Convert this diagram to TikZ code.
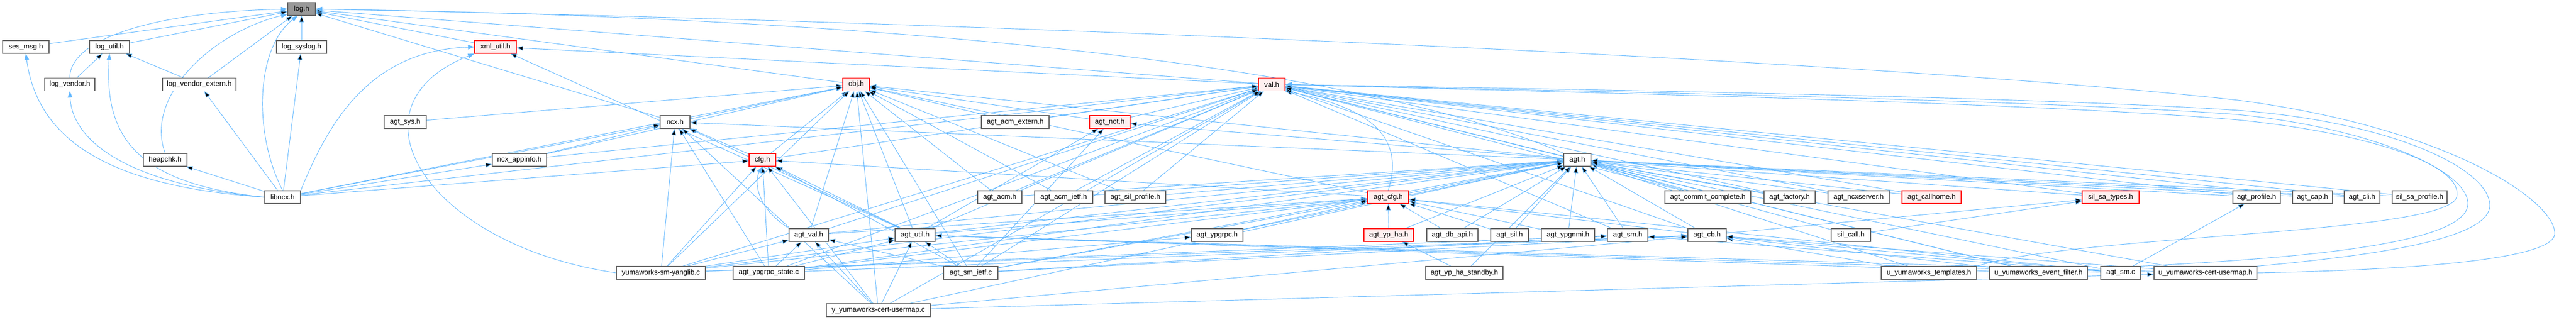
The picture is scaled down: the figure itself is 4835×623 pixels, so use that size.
\documentclass[tikz,border=0pt]{standalone}
\usepackage{fontspec}
\setmainfont{Liberation Sans}
\usetikzlibrary{arrows.meta, backgrounds}
\definecolor{edgeblue}{HTML}{63B8FF}
\definecolor{boxgrey}{HTML}{666666}
\definecolor{rootgrey}{HTML}{999999}
\definecolor{truncred}{HTML}{FF0000}
\definecolor{truncfill}{HTML}{FFF0F0}
\tikzset{
  file/.style={draw=boxgrey, fill=white, line width=0.9pt, minimum height=18pt,
    inner sep=0pt, font=\fontsize{10}{12}\selectfont},
  trunc/.style={file, draw=truncred, fill=truncfill},
  root/.style={file, fill=rootgrey},
  wd/.style={minimum width=#1*0.75pt},
  incl/.style={draw=edgeblue, line width=0.7pt, -{Triangle[length=9pt,width=6.5pt]}},
}

\begin{document}
\begin{tikzpicture}[x=0.75pt, y=-0.75pt]
    \useasboundingbox (0,0) rectangle (4835,623);
    % Root
    \node[root, wd=52] (log) at (566,17) {log.h};
    % Level 1
    \node[file, wd=87] (sesmsg) at (48.5,88) {ses\_msg.h};
    \node[file, wd=75] (logutil) at (205.5,88) {log\_util.h};
    \node[file, wd=94] (logsyslog) at (566,88) {log\_syslog.h};
    \node[trunc, wd=78] (xmlutil) at (930,88) {xml\_util.h};
    % Level 2
    \node[file, wd=94] (logvendor) at (131,158.5) {log\_vendor.h};
    \node[file, wd=138] (logvendorext) at (374,158.5) {log\_vendor\_extern.h};
    \node[trunc, wd=50] (obj) at (1607,158.5) {obj.h};
    \node[trunc, wd=50] (val) at (2387,158.5) {val.h};
    % Level 3
    \node[file, wd=79] (agtsys) at (760.5,229) {agt\_sys.h};
    \node[file, wd=56] (ncx) at (1267,229) {ncx.h};
    \node[file, wd=127] (acmext) at (1905.5,229) {agt\_acm\_extern.h};
    \node[trunc, wd=76] (agtnot) at (2083,229) {agt\_not.h};
    % Level 4
    \node[file, wd=82] (heapchk) at (310,300) {heapchk.h};
    \node[file, wd=102] (appinfo) at (975,300) {ncx\_appinfo.h};
    \node[trunc, wd=50] (cfg) at (1431,300) {cfg.h};
    \node[file, wd=51] (agt) at (2960.5,300) {agt.h};
    % Level 5
    \node[file, wd=67] (libncx) at (530.5,370) {libncx.h};
    \node[file, wd=83] (acm) at (1876.5,370) {agt\_acm.h};
    \node[file, wd=109] (acmietf) at (1996.5,370) {agt\_acm\_ietf.h};
    \node[file, wd=114] (silprof) at (2131,370) {agt\_sil\_profile.h};
    \node[trunc, wd=77] (agtcfg) at (2605.5,370) {agt\_cfg.h};
    \node[file, wd=161] (commit) at (3205.5,370) {agt\_commit\_complete.h};
    \node[file, wd=96] (factory) at (3359,370) {agt\_factory.h};
    \node[file, wd=115] (ncxserver) at (3488.5,370) {agt\_ncxserver.h};
    \node[trunc, wd=111] (callhome) at (3625.5,370) {agt\_callhome.h};
    \node[trunc, wd=107] (silsatypes) at (3961.5,370) {sil\_sa\_types.h};
    \node[file, wd=89] (agtprofile) at (4235.5,370) {agt\_profile.h};
    \node[file, wd=75] (agtcap) at (4340.5,370) {agt\_cap.h};
    \node[file, wd=67] (agtcli) at (4433.5,370) {agt\_cli.h};
    \node[file, wd=103] (silsaprofile) at (4541.5,370) {sil\_sa\_profile.h};
    % Level 6
    \node[file, wd=74] (agtval) at (1518,441) {agt\_val.h};
    \node[file, wd=75] (agtutil) at (1717.5,441) {agt\_util.h};
    \node[file, wd=97] (ypgrpc) at (2284.5,441) {agt\_ypgrpc.h};
    \node[trunc, wd=93] (ypha) at (2606.5,441) {agt\_yp\_ha.h};
    \node[file, wd=96] (dbapi) at (2726,441) {agt\_db\_api.h};
    \node[file, wd=71] (agtsil) at (2833.5,441) {agt\_sil.h};
    \node[file, wd=100] (ypgnmi) at (2943,441) {agt\_ypgnmi.h};
    \node[file, wd=76] (agtsmh) at (3055,441) {agt\_sm.h};
    \node[file, wd=72] (agtcb) at (3204,441) {agt\_cb.h};
    \node[file, wd=74] (silcall) at (3474,441) {sil\_call.h};
    % Level 7
    \node[file, wd=167] (yanglib) at (1240.5,512) {yumaworks-sm-yanglib.c};
    \node[file, wd=134] (grpcstate) at (1443,512) {agt\_ypgrpc\_state.c};
    \node[file, wd=102] (smietf) at (1822,512) {agt\_sm\_ietf.c};
    \node[file, wd=145] (hastandby) at (2748.5,512) {agt\_yp\_ha\_standby.h};
    \node[file, wd=179] (templates) at (3620.5,512) {u\_yumaworks\_templates.h};
    \node[file, wd=184] (eventfilter) at (3826,512) {u\_yumaworks\_event\_filter.h};
    \node[file, wd=75] (agtsmc) at (3980.5,512) {agt\_sm.c};
    \node[file, wd=193] (ucerth) at (4139.5,512) {u\_yumaworks-cert-usermap.h};
    % Level 8
    \node[file, wd=195] (ucertc) at (1648.5,582) {y\_yumaworks-cert-usermap.c};

    \begin{pgfonlayer}{background}
    % Includes of log.h and the log helpers
    \path[incl] (sesmsg) edge (log);
    \path[incl] (logutil) edge (log);
    \path[incl] (logsyslog) edge (log);
    \path[incl] (xmlutil) edge (log);
    \path[incl] (logvendorext) edge (log) edge (logutil);
    \path[incl] (logvendor) edge (logutil);
    \draw[incl] (logvendor.north) .. controls (131,70) and (300,22) .. (log.west);
    \draw[incl] (heapchk.north) .. controls (270,180) and (400,60) .. (log.200);
    \path[incl] (obj) edge (log);
    \path[incl] (val) edge (log) edge (xmlutil);
    \path[incl] (ncx) edge (log) edge (obj);
    \path[incl] (agtsys) edge (obj);
    \path[incl] (acmext) edge (obj) edge (val);
    \path[incl] (agtnot) edge (obj) edge (val);
    \path[incl] (appinfo) edge (ncx) edge (obj) edge (val);
    \path[incl] (cfg) edge (ncx) edge (obj) edge (val);
    \path[incl] (agt) edge (ncx) edge (obj) edge (val) edge (agtnot);
    \draw[incl] (agt.north west) .. controls (2500,100) and (1500,30) .. (log.east);
    % libncx.h
    \path[incl] (libncx) edge (logvendorext) edge (heapchk) edge (logsyslog)
        edge (ncx) edge (appinfo) edge (cfg) edge (obj) edge (val);
    \draw[incl] (libncx.north) .. controls (475,250) and (480,90) .. (log.240);
    \draw[incl] (libncx.west) .. controls (200,350) and (70,260) .. (sesmsg.south);
    \draw[incl] (libncx.west) .. controls (260,345) and (195,260) .. (logutil.south);
    \draw[incl] (libncx.west) .. controls (230,345) and (135,260) .. (logvendor.south);
    \draw[incl] (libncx.north east) .. controls (620,220) and (700,95) .. (xmlutil.west);
    % Agent headers
    \path[incl] (acm) edge (agt) edge (obj) edge (val);
    \path[incl] (acmietf) edge (agt) edge (obj) edge (val);
    \path[incl] (silprof) edge (agt) edge (obj) edge (val);
    \path[incl] (agtcfg) edge (agt) edge (obj) edge (cfg);
    \draw[incl] (agtcfg.north) .. controls (2640,250) and (2560,200) .. (val.south east);
    \path[incl] (commit) edge (agt) edge (val);
    \path[incl] (factory) edge (agt) edge (val);
    \path[incl] (ncxserver) edge (agt) edge (val);
    \path[incl] (callhome) edge (agt) edge (val);
    \path[incl] (silsatypes) edge (agt) edge (val);
    \path[incl] (agtprofile) edge (agt) edge (val);
    \path[incl] (agtcap) edge (agt) edge (val);
    \path[incl] (agtcli) edge (agt) edge (val);
    \path[incl] (silsaprofile) edge (agt) edge (val);
    \path[incl] (agtval) edge (agtcfg) edge (agt) edge (val) edge (obj);
    \draw[incl] (agtval.north west) .. controls (1420,390) and (1415,340) .. (cfg.south);
    \path[incl] (agtutil) edge (xmlutil) edge (obj) edge (ncx) edge (cfg) edge (val)
        edge (agt) edge (agtcfg) edge (agtnot);
    \path[incl] (ypgrpc) edge (agt) edge (agtcfg);
    \path[incl] (ypha) edge (agtcfg) edge (agt);
    \path[incl] (dbapi) edge (agtcfg) edge (agt);
    \path[incl] (agtsil) edge (agtcfg) edge (agt);
    \path[incl] (ypgnmi) edge (agtcfg) edge (agt);
    \path[incl] (agtsmh) edge (agt) edge (val);
    \path[incl] (agtcb) edge (agt) edge (agtcfg) edge (val) edge (silsatypes);
    \path[incl] (silcall) edge (agt) edge (silsatypes);
    % Sources and leaf headers
    \path[incl] (yanglib) edge (ncx) edge (cfg) edge (obj) edge (val) edge (agt)
        edge (agtcfg) edge (agtutil) edge (agtval) edge (agtsmh) edge (agtcb);
    \draw[incl] (yanglib.west) .. controls (800,460) and (640,200) .. (xmlutil.south west);
    \path[incl] (grpcstate) edge (ncx) edge (cfg) edge (val) edge (agt) edge (agtcfg)
        edge (agtutil) edge (agtval) edge (ypgrpc) edge (agtcb);
    \path[incl] (smietf) edge (cfg) edge (obj) edge (val) edge (agt) edge (agtcfg)
        edge (agtutil) edge (agtval) edge (agtsmh) edge (agtcb) edge (agtnot);
    \path[incl] (hastandby) edge (ypha) edge (agt);
    \path[incl] (templates) edge (agt) edge (agtcb);
    \path[incl] (eventfilter) edge (agt) edge (agtcb) edge (agtutil) edge (val);
    \path[incl] (agtsmc) edge (agt) edge (agtsmh) edge (agtcb) edge (agtprofile)
        edge (agtutil) edge (agtcfg);
    \path[incl] (ucerth) edge (agt) edge (agtcb) edge (agtutil);
    \path[incl] (ucertc) edge (ucerth) edge (agtutil) edge (agtval) edge (agt) edge (val)
        edge (cfg) edge (ncx) edge (obj) edge (agtcb);
    % Loops round the right side
    \draw[incl] (ucerth.east) .. controls (4600,505) and (4790,480) .. (4795,440)
        .. controls (4800,380) and (4600,240) .. (4200,188)
        .. controls (3500,110) and (1800,40) .. (log.east);
    \draw[incl] (ucerth.north east) .. controls (4450,480) and (4670,450) .. (4673,387)
        .. controls (4676,320) and (4500,230) .. (4200,207)
        .. controls (3800,180) and (2800,165) .. (val.east);
    \draw[incl] (agtsmc.north east) .. controls (4300,485) and (4630,460) .. (4632,383)
        .. controls (4634,320) and (4450,240) .. (4200,215)
        .. controls (3800,185) and (2800,168) .. (val.east);
    \draw[incl] (templates.north east) .. controls (3900,440) and (4590,440) .. (4611,370)
        .. controls (4625,310) and (4450,250) .. (4200,225)
        .. controls (3800,190) and (2800,170) .. (val.east);
    \end{pgfonlayer}
\end{tikzpicture}
\end{document}
